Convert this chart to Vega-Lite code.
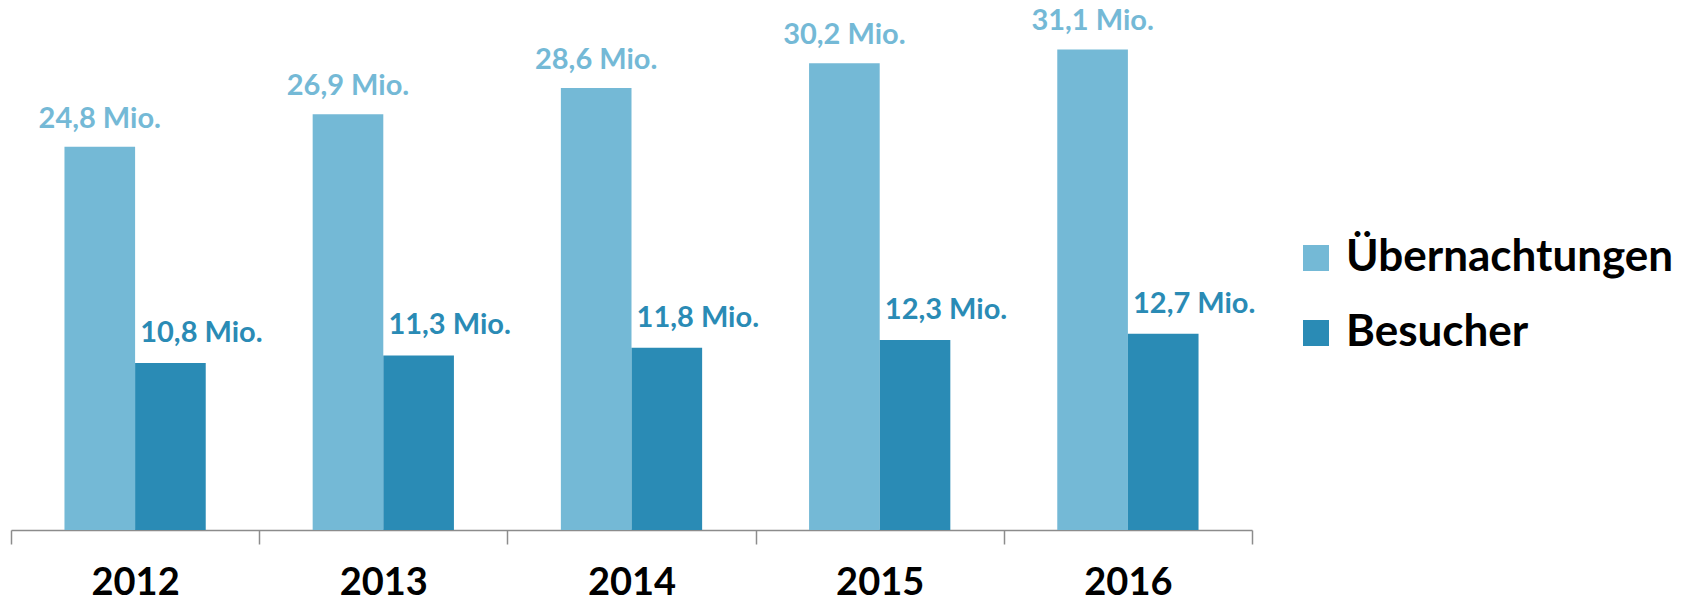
{
  "$schema": "https://vega.github.io/schema/vega-lite/v6.json",
  "width": 1241,
  "height": 530,
  "autosize": {"type": "none"},
  "padding": {"left": 11, "top": 0, "right": 438, "bottom": 76},
  "background": "white",
  "config": {"view": {"stroke": null}, "font": "Lato"},
  "data": {
    "values": [
      {"year": "2012", "series": "Übernachtungen", "value": 24.8, "label": "24,8 Mio."},
      {"year": "2012", "series": "Besucher", "value": 10.8, "label": "10,8 Mio."},
      {"year": "2013", "series": "Übernachtungen", "value": 26.9, "label": "26,9 Mio."},
      {"year": "2013", "series": "Besucher", "value": 11.3, "label": "11,3 Mio."},
      {"year": "2014", "series": "Übernachtungen", "value": 28.6, "label": "28,6 Mio."},
      {"year": "2014", "series": "Besucher", "value": 11.8, "label": "11,8 Mio."},
      {"year": "2015", "series": "Übernachtungen", "value": 30.2, "label": "30,2 Mio."},
      {"year": "2015", "series": "Besucher", "value": 12.3, "label": "12,3 Mio."},
      {"year": "2016", "series": "Übernachtungen", "value": 31.1, "label": "31,1 Mio."},
      {"year": "2016", "series": "Besucher", "value": 12.7, "label": "12,7 Mio."}
    ]
  },
  "encoding": {
    "x": {
      "field": "year", "type": "nominal",
      "scale": {"paddingInner": 0, "paddingOuter": 0},
      "axis": {
        "title": null, "labelAngle": 0, "tickBand": "extent",
        "domainColor": "#8c8c8c", "domainWidth": 1.5,
        "tickColor": "#8c8c8c", "tickWidth": 1.5, "tickSize": 14,
        "labelFont": "Lato", "labelFontWeight": "bold", "labelFontSize": 38,
        "labelColor": "#000000", "labelPadding": 20
      }
    },
    "xOffset": {
      "field": "series", "type": "nominal",
      "scale": {"domain": ["Übernachtungen", "Besucher"], "paddingInner": 0, "paddingOuter": 0.757}
    },
    "y": {
      "field": "value", "type": "quantitative",
      "scale": {"domain": [0, 34.3]},
      "axis": null
    }
  },
  "layer": [
    {
      "mark": {"type": "bar"},
      "encoding": {
        "color": {
          "field": "series", "type": "nominal",
          "scale": {"domain": ["Übernachtungen", "Besucher"], "range": ["#74b9d6", "#2a8bb5"]},
          "legend": {
            "title": null, "orient": "none", "legendX": 1283, "legendY": 236,
            "symbolType": "square", "symbolSize": 676, "symbolStrokeWidth": 0,
            "labelFont": "Lato", "labelFontWeight": "bold", "labelFontSize": 44,
            "labelColor": "#000000", "labelOffset": 8, "labelLimit": 0, "rowPadding": 31
          }
        }
      }
    },
    {
      "transform": [{"filter": "datum.series === 'Übernachtungen'"}],
      "mark": {"type": "text", "baseline": "alphabetic", "dy": -19, "font": "Lato", "fontWeight": "bold", "fontSize": 29, "color": "#74b9d6"},
      "encoding": {"text": {"field": "label"}}
    },
    {
      "transform": [{"filter": "datum.series === 'Besucher'"}],
      "mark": {"type": "text", "baseline": "alphabetic", "dy": -21, "dx": 31, "font": "Lato", "fontWeight": "bold", "fontSize": 29, "color": "#2a8bb5"},
      "encoding": {"text": {"field": "label"}}
    }
  ]
}
